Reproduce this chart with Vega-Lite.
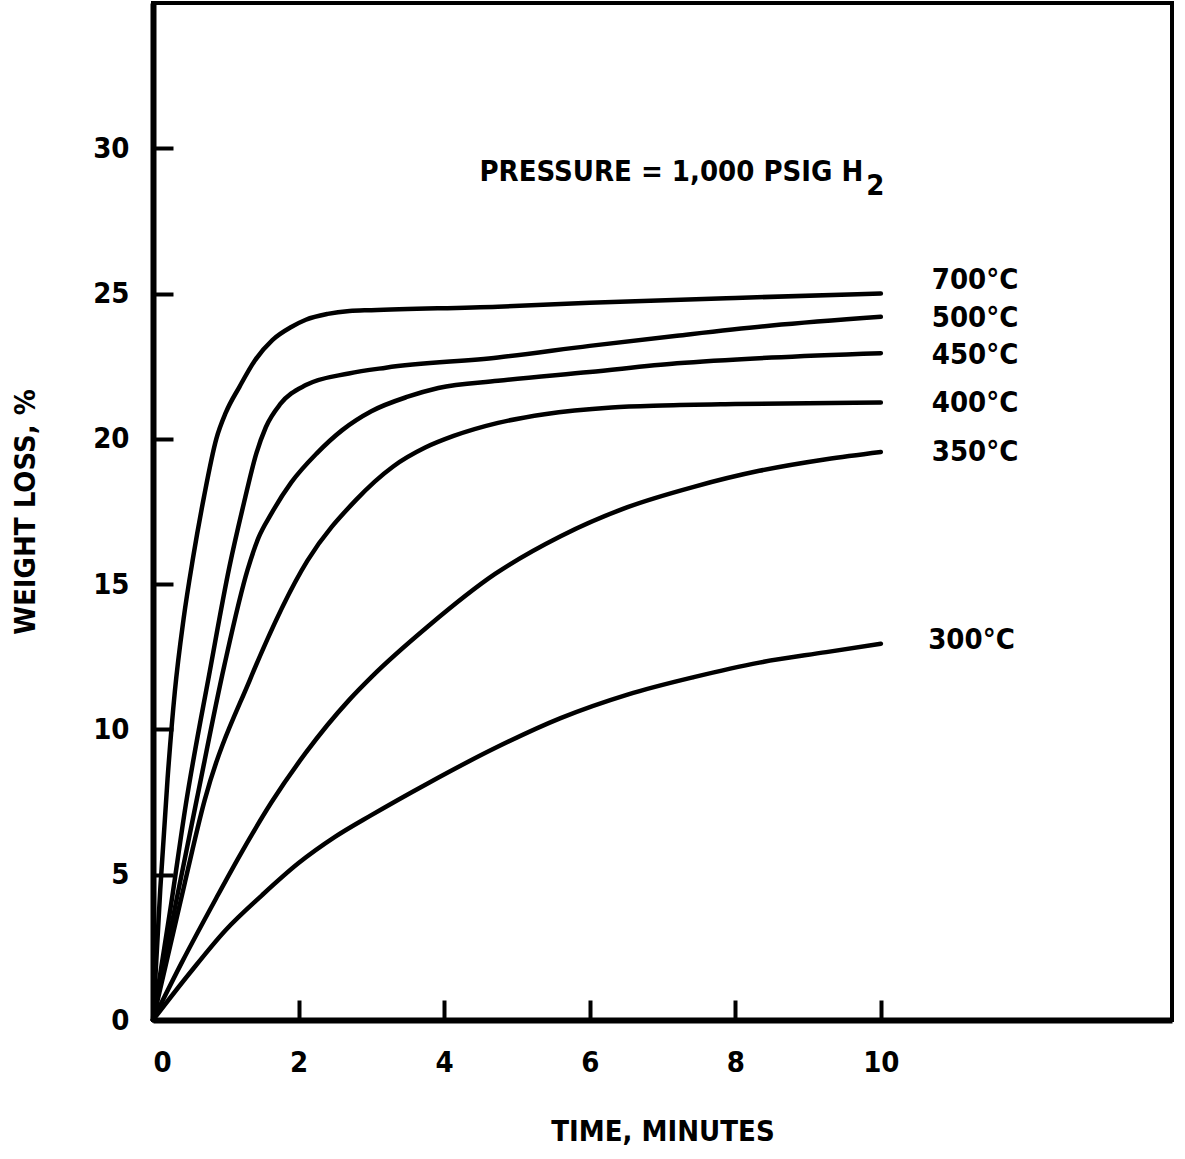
{
  "$schema": "https://vega.github.io/schema/vega-lite/v6.json",
  "width": 1019,
  "height": 1017,
  "autosize": {"type": "none"},
  "padding": {"left": 153, "top": 3, "right": 13, "bottom": 139},
  "background": "white",
  "config": {
    "font": "DejaVu Sans Condensed, Liberation Sans, sans-serif",
    "view": {"stroke": "black", "strokeWidth": 4},
    "axis": {
      "domainColor": "black",
      "domainWidth": 6,
      "tickColor": "black",
      "tickWidth": 4,
      "tickSize": -20,
      "grid": false,
      "format": "d",
      "labelColor": "black",
      "labelFontSize": 29,
      "labelFontWeight": "bold",
      "titleColor": "black",
      "titleFontSize": 29,
      "titleFontWeight": "bold"
    }
  },
  "datasets": {
    "curves": [
      {"temp": "700", "t": 0, "v": 0},
      {"temp": "700", "t": 0.1, "v": 4.5},
      {"temp": "700", "t": 0.2, "v": 8.3},
      {"temp": "700", "t": 0.3, "v": 11.3},
      {"temp": "700", "t": 0.42, "v": 13.8},
      {"temp": "700", "t": 0.55, "v": 15.9},
      {"temp": "700", "t": 0.7, "v": 18.0},
      {"temp": "700", "t": 0.87, "v": 20.0},
      {"temp": "700", "t": 1.0, "v": 20.9},
      {"temp": "700", "t": 1.19, "v": 21.8},
      {"temp": "700", "t": 1.4, "v": 22.7},
      {"temp": "700", "t": 1.64, "v": 23.4},
      {"temp": "700", "t": 1.9, "v": 23.85},
      {"temp": "700", "t": 2.1, "v": 24.1},
      {"temp": "700", "t": 2.4, "v": 24.3},
      {"temp": "700", "t": 2.7, "v": 24.4},
      {"temp": "700", "t": 3.0, "v": 24.43},
      {"temp": "700", "t": 4.74, "v": 24.55},
      {"temp": "700", "t": 6.0, "v": 24.68},
      {"temp": "700", "t": 8.0, "v": 24.85},
      {"temp": "700", "t": 10.0, "v": 25.0},
      {"temp": "500", "t": 0, "v": 0},
      {"temp": "500", "t": 0.25, "v": 4.0},
      {"temp": "500", "t": 0.45, "v": 7.4},
      {"temp": "500", "t": 0.78, "v": 12.0},
      {"temp": "500", "t": 1.05, "v": 15.6},
      {"temp": "500", "t": 1.25, "v": 17.8},
      {"temp": "500", "t": 1.42, "v": 19.5},
      {"temp": "500", "t": 1.55, "v": 20.4},
      {"temp": "500", "t": 1.75, "v": 21.2},
      {"temp": "500", "t": 2.1, "v": 21.85},
      {"temp": "500", "t": 2.69, "v": 22.25},
      {"temp": "500", "t": 3.2, "v": 22.45},
      {"temp": "500", "t": 4.74, "v": 22.8},
      {"temp": "500", "t": 6.0, "v": 23.2},
      {"temp": "500", "t": 7.2, "v": 23.55},
      {"temp": "500", "t": 8.5, "v": 23.9},
      {"temp": "500", "t": 10.0, "v": 24.2},
      {"temp": "450", "t": 0, "v": 0},
      {"temp": "450", "t": 0.32, "v": 4.1},
      {"temp": "450", "t": 0.6, "v": 7.57},
      {"temp": "450", "t": 0.98, "v": 12.2},
      {"temp": "450", "t": 1.3, "v": 15.5},
      {"temp": "450", "t": 1.45, "v": 16.6},
      {"temp": "450", "t": 1.62, "v": 17.4},
      {"temp": "450", "t": 1.9, "v": 18.5},
      {"temp": "450", "t": 2.25, "v": 19.5},
      {"temp": "450", "t": 2.6, "v": 20.3},
      {"temp": "450", "t": 3.0, "v": 20.95},
      {"temp": "450", "t": 3.5, "v": 21.45},
      {"temp": "450", "t": 3.92, "v": 21.75},
      {"temp": "450", "t": 4.74, "v": 22.0},
      {"temp": "450", "t": 6.0, "v": 22.3},
      {"temp": "450", "t": 7.2, "v": 22.6},
      {"temp": "450", "t": 8.5, "v": 22.8},
      {"temp": "450", "t": 10.0, "v": 22.95},
      {"temp": "400", "t": 0, "v": 0},
      {"temp": "400", "t": 0.38, "v": 4.1},
      {"temp": "400", "t": 0.71, "v": 7.57},
      {"temp": "400", "t": 1.33, "v": 11.7},
      {"temp": "400", "t": 2.12, "v": 15.8},
      {"temp": "400", "t": 2.79, "v": 17.9},
      {"temp": "400", "t": 3.3, "v": 19.05},
      {"temp": "400", "t": 3.74, "v": 19.7},
      {"temp": "400", "t": 4.13, "v": 20.1},
      {"temp": "400", "t": 4.74, "v": 20.55},
      {"temp": "400", "t": 5.38, "v": 20.85},
      {"temp": "400", "t": 6.3, "v": 21.08},
      {"temp": "400", "t": 7.0, "v": 21.15},
      {"temp": "400", "t": 8.0, "v": 21.2},
      {"temp": "400", "t": 10.0, "v": 21.25},
      {"temp": "350", "t": 0, "v": 0},
      {"temp": "350", "t": 0.4, "v": 2.0},
      {"temp": "350", "t": 0.87, "v": 4.2},
      {"temp": "350", "t": 1.19, "v": 5.65},
      {"temp": "350", "t": 1.63, "v": 7.5},
      {"temp": "350", "t": 2.1, "v": 9.2},
      {"temp": "350", "t": 2.69, "v": 11.0},
      {"temp": "350", "t": 3.0, "v": 11.8},
      {"temp": "350", "t": 3.78, "v": 13.55},
      {"temp": "350", "t": 4.7, "v": 15.35},
      {"temp": "350", "t": 5.6, "v": 16.65},
      {"temp": "350", "t": 6.52, "v": 17.65},
      {"temp": "350", "t": 7.43, "v": 18.35},
      {"temp": "350", "t": 8.33, "v": 18.9},
      {"temp": "350", "t": 9.25, "v": 19.3},
      {"temp": "350", "t": 10.0, "v": 19.55},
      {"temp": "300", "t": 0, "v": 0},
      {"temp": "300", "t": 0.5, "v": 1.6},
      {"temp": "300", "t": 1.0, "v": 3.1},
      {"temp": "300", "t": 1.5, "v": 4.3},
      {"temp": "300", "t": 2.0, "v": 5.4},
      {"temp": "300", "t": 2.5, "v": 6.3},
      {"temp": "300", "t": 3.0, "v": 7.05},
      {"temp": "300", "t": 3.78, "v": 8.15},
      {"temp": "300", "t": 4.7, "v": 9.36},
      {"temp": "300", "t": 5.6, "v": 10.39},
      {"temp": "300", "t": 6.52, "v": 11.2},
      {"temp": "300", "t": 7.43, "v": 11.8},
      {"temp": "300", "t": 8.33, "v": 12.3},
      {"temp": "300", "t": 9.25, "v": 12.66},
      {"temp": "300", "t": 10.0, "v": 12.95}
    ],
    "labels": [
      {"label": "700°C", "t": 10.7, "v": 25.45},
      {"label": "500°C", "t": 10.7, "v": 24.15},
      {"label": "450°C", "t": 10.7, "v": 22.9},
      {"label": "400°C", "t": 10.7, "v": 21.25},
      {"label": "350°C", "t": 10.7, "v": 19.55},
      {"label": "300°C", "t": 10.65, "v": 13.07}
    ],
    "note": [
      {"text": "PRESSURE = 1,000 PSIG H", "t": 9.76, "v": 29.2}
    ],
    "sub": [
      {"text": "2", "t": 9.8, "v": 28.7}
    ]
  },
  "layer": [
    {
      "data": {"name": "curves"},
      "mark": {"type": "line", "interpolate": "monotone", "color": "black", "strokeWidth": 4.5, "strokeCap": "round"},
      "encoding": {
        "x": {
          "field": "t", "type": "quantitative",
          "scale": {"domain": [0, 14], "nice": false},
          "axis": {"values": [0, 2, 4, 6, 8, 10], "labelPadding": 48, "title": "TIME, MINUTES", "titlePadding": 40}
        },
        "y": {
          "field": "v", "type": "quantitative",
          "scale": {"domain": [0, 35], "nice": false},
          "axis": {"values": [0, 5, 10, 15, 20, 25, 30], "labelPadding": 44, "title": "WEIGHT LOSS, %", "titlePadding": 52}
        },
        "detail": {"field": "temp"}
      }
    },
    {
      "data": {"name": "labels"},
      "mark": {"type": "text", "align": "left", "baseline": "middle", "fontSize": 29, "fontWeight": "bold", "color": "black"},
      "encoding": {
        "x": {"field": "t", "type": "quantitative"},
        "y": {"field": "v", "type": "quantitative"},
        "text": {"field": "label"}
      }
    },
    {
      "data": {"name": "note"},
      "mark": {"type": "text", "align": "right", "baseline": "middle", "fontSize": 29, "fontWeight": "bold", "color": "black"},
      "encoding": {
        "x": {"field": "t", "type": "quantitative"},
        "y": {"field": "v", "type": "quantitative"},
        "text": {"field": "text"}
      }
    },
    {
      "data": {"name": "sub"},
      "mark": {"type": "text", "align": "left", "baseline": "middle", "fontSize": 29, "fontWeight": "bold", "color": "black"},
      "encoding": {
        "x": {"field": "t", "type": "quantitative"},
        "y": {"field": "v", "type": "quantitative"},
        "text": {"field": "text"}
      }
    }
  ]
}
